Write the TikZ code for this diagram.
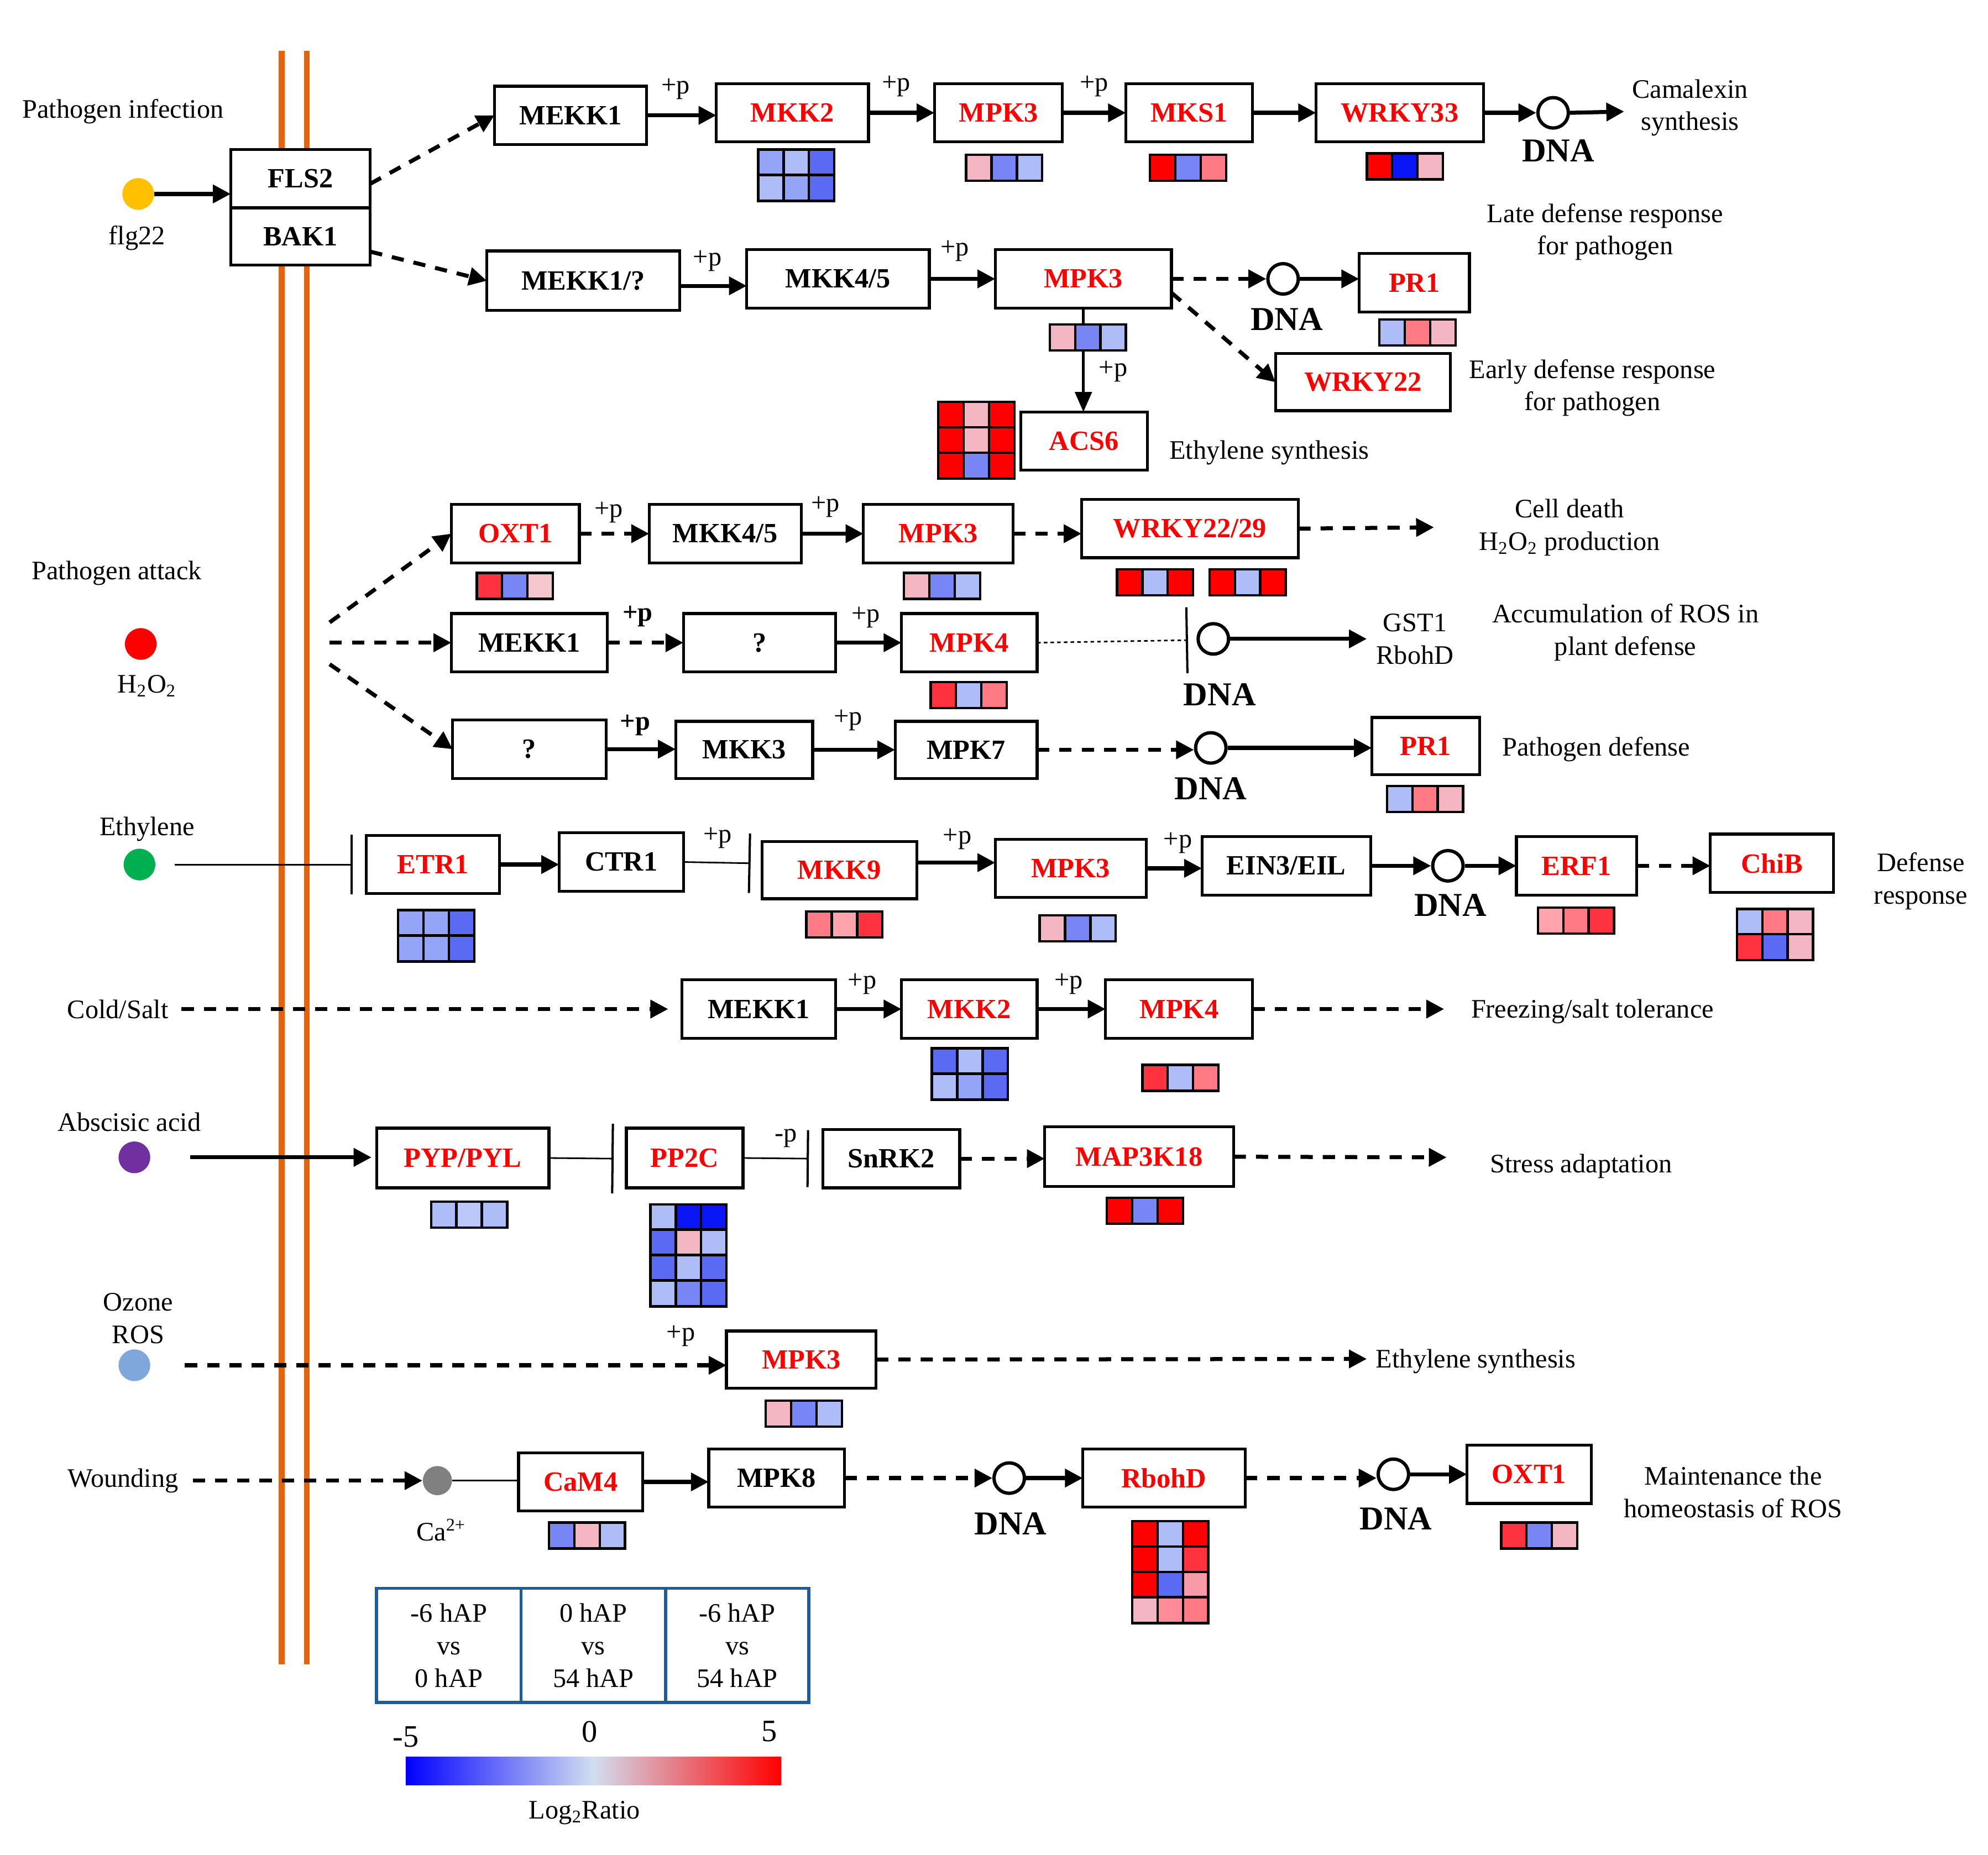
\documentclass[tikz,border=0pt]{standalone}
\usepackage{fontspec}
\setmainfont{Liberation Serif}
\usetikzlibrary{arrows.meta,fit}
\definecolor{membc}{HTML}{E2640F}
\definecolor{gred}{HTML}{FF0000}
\definecolor{legc}{HTML}{1F5C99}
\definecolor{gmid}{HTML}{D2DEF0}
\definecolor{flgc}{HTML}{FFC000}
\definecolor{atkc}{HTML}{FF0000}
\definecolor{ethc}{HTML}{00B050}
\definecolor{abac}{HTML}{7030A0}
\definecolor{ozc}{HTML}{7FA7DC}
\definecolor{cac}{HTML}{808080}
\definecolor{hR}{HTML}{FF0000}
\definecolor{hRb}{HTML}{FF3340}
\definecolor{hS}{HTML}{FF7A85}
\definecolor{hSL}{HTML}{FFA3AD}
\definecolor{hPS}{HTML}{F99AA8}
\definecolor{hSb}{HTML}{FF8C98}
\definecolor{hP}{HTML}{F4B6C2}
\definecolor{hLP}{HTML}{F5C6CE}
\definecolor{hLB}{HTML}{AEBCF8}
\definecolor{hLBb}{HTML}{BCC8F9}
\definecolor{hBa}{HTML}{94A4F6}
\definecolor{hMB}{HTML}{7886F5}
\definecolor{hB}{HTML}{5A6AF3}
\definecolor{hDB}{HTML}{0A16F6}
\newcommand\myboxf{\fontsize{12.5}{14}\selectfont\bfseries}
\newcommand\mylblf{\fontsize{12}{14.6}\selectfont}
\newcommand\mydnaf{\fontsize{15}{17}\selectfont\bfseries}
\newcommand\mynumf{\fontsize{14}{16}\selectfont}
\newcommand\hmc[3]{\draw[hmcell,fill=#3] (#1,#2) rectangle (#1+20,#2+20.5);}
\newcommand\hmr[5]{\hmc{#1}{#2}{#3}\hmc{#1+20}{#2}{#4}\hmc{#1+40}{#2}{#5}}
\newcommand\mkbox[7]{\node[#1,minimum width={(#5-#3)*0.02cm},minimum height={(#6-#4)*0.02cm}] (#2) at ({(#3+#5)/2},{(#4+#6)/2}) {#7};}
\begin{document}
\begin{tikzpicture}[x=0.02cm,y=-0.02cm,
 gbox/.style={draw,line width=1.3pt,fill=white,inner sep=0pt,outer sep=0pt,font=\myboxf},
 rbox/.style={gbox,text=gred},
 lbl/.style={font=\mylblf,align=center,inner sep=0pt},
 pl/.style={font=\mylblf,inner sep=0pt},
 pb/.style={font=\mylblf\bfseries,inner sep=0pt},
 dnal/.style={font=\mydnaf,inner sep=0pt},
 dnac/.style={circle,draw,line width=1.5pt,minimum size=0.48cm,inner sep=0pt,fill=white},
 sig/.style={circle,minimum size=0.5cm,inner sep=0pt},
 arr/.style={line width=1.8pt,-{Triangle[length=8pt,width=8pt]}},
 darr/.style={arr,dash pattern=on 5.5pt off 4.5pt},
 varr/.style={line width=1.3pt,-{Triangle[length=9pt,width=7.5pt]}},
 tline/.style={line width=0.7pt},
 inh/.style={line width=0.7pt,-{Bar[width=#1,line width=1pt]}},
 inh/.default=0.94cm,
 hmcell/.style={draw=black,line width=1.1pt},
 membl/.style={draw=membc,line width=2.7pt},
 legcell/.style={draw=legc,line width=1.4pt,inner sep=0pt,outer sep=0pt,font=\mylblf,align=center}]
\useasboundingbox (0,0) rectangle (1568,1463);
% membrane
\draw[membl] (222,40) -- (222,1313);
\draw[membl] (242,40) -- (242,1313);
% ---------- boxes ----------
\mkbox{gbox}{fls2}{182}{118}{292}{164}{FLS2}
\mkbox{gbox}{bak1}{182}{164}{292}{209}{BAK1}
\mkbox{gbox}{mekk1a}{390}{68}{510}{114}{MEKK1}
\mkbox{rbox}{mkk2a}{565}{66}{685}{112}{MKK2}
\mkbox{rbox}{mpk3a}{737}{66}{838}{112}{MPK3}
\mkbox{rbox}{mks1}{888}{66}{988}{112}{MKS1}
\mkbox{rbox}{wrky33}{1038}{66}{1170}{112}{WRKY33}
\mkbox{gbox}{mekk1q}{384}{198}{536}{245}{MEKK1/?}
\mkbox{gbox}{mkk45a}{589}{197}{733}{243}{MKK4/5}
\mkbox{rbox}{mpk3b}{785}{197}{924}{243}{MPK3}
\mkbox{rbox}{pr1a}{1072}{200}{1159}{246}{PR1}
\mkbox{rbox}{wrky22}{1006}{279}{1144}{324}{WRKY22}
\mkbox{rbox}{acs6}{805}{325}{905}{371}{ACS6}
\mkbox{rbox}{oxt1a}{356}{398}{457}{444}{OXT1}
\mkbox{gbox}{mkk45b}{512}{398}{632}{444}{MKK4/5}
\mkbox{rbox}{mpk3c}{681}{398}{799}{444}{MPK3}
\mkbox{rbox}{wrky2229}{853}{394}{1024}{440}{WRKY22/29}
\mkbox{gbox}{mekk1b}{356}{484}{479}{530}{MEKK1}
\mkbox{gbox}{qa}{539}{484}{659}{530}{?}
\mkbox{rbox}{mpk4a}{711}{484}{818}{530}{MPK4}
\mkbox{gbox}{qb}{357}{568}{478}{614}{?}
\mkbox{gbox}{mkk3}{533}{569}{641}{614}{MKK3}
\mkbox{gbox}{mpk7}{706}{569}{818}{614}{MPK7}
\mkbox{rbox}{pr1b}{1082}{566}{1167}{611}{PR1}
\mkbox{rbox}{etr1}{289}{659}{394}{705}{ETR1}
\mkbox{gbox}{ctr1}{441}{657}{539}{703}{CTR1}
\mkbox{rbox}{mkk9}{601}{664}{723}{709}{MKK9}
\mkbox{rbox}{mpk3d}{785}{662}{904}{708}{MPK3}
\mkbox{gbox}{ein3}{948}{660}{1081}{706}{EIN3/EIL}
\mkbox{rbox}{erf1}{1196}{660}{1291}{706}{ERF1}
\mkbox{rbox}{chib}{1349}{658}{1446}{704}{ChiB}
\mkbox{gbox}{mekk1c}{538}{773}{659}{819}{MEKK1}
\mkbox{rbox}{mkk2b}{711}{773}{818}{819}{MKK2}
\mkbox{rbox}{mpk4b}{872}{773}{988}{819}{MPK4}
\mkbox{rbox}{pyp}{297}{890}{433}{937}{PYP/PYL}
\mkbox{rbox}{pp2c}{494}{890}{586}{937}{PP2C}
\mkbox{gbox}{snrk2}{649}{891}{757}{937}{SnRK2}
\mkbox{rbox}{map3k18}{824}{889}{973}{936}{MAP3K18}
\mkbox{rbox}{mpk3e}{573}{1050}{691}{1095}{MPK3}
\mkbox{rbox}{cam4}{409}{1146}{507}{1192}{CaM4}
\mkbox{gbox}{mpk8}{559}{1143}{666}{1189}{MPK8}
\mkbox{rbox}{rbohd}{854}{1143}{982}{1189}{RbohD}
\mkbox{rbox}{oxt1b}{1157}{1140}{1255}{1186}{OXT1}
% ---------- circles ----------
\node[dnac] (dna1) at (1225,89) {};
\node[dnac] (dna2) at (1012,220) {};
\node[dnac] (dna3) at (957,504) {};
\node[dnac] (dna4) at (955,590) {};
\node[dnac] (dna5) at (1142,683) {};
\node[dnac] (dna6) at (796,1166) {};
\node[dnac] (dna7) at (1099,1163) {};
\node[sig,fill=flgc] (flg) at (109,153) {};
\node[sig,fill=atkc] (atk) at (111,508) {};
\node[sig,fill=ethc] (eth) at (110,682) {};
\node[sig,fill=abac] (aba) at (106,913) {};
\node[sig,fill=ozc] (oz) at (106,1077) {};
\node[sig,fill=cac,minimum size=0.46cm] (ca) at (345,1168) {};
% ---------- plain labels ----------
\node[lbl] (tpi) at (97,88) {Pathogen infection};
\node[lbl] (tflg) at (108,188) {flg22};
\node[lbl] (tcam) at (1333,85) {Camalexin\\synthesis};
\node[lbl] (tlate) at (1266,183) {Late defense response\\for pathogen};
\node[lbl] (tearly) at (1256,306) {Early defense response\\for pathogen};
\node[lbl] (tes1) at (1001,357) {Ethylene synthesis};
\node[lbl] (tpa) at (92,452) {Pathogen attack};
\node[lbl] (th2o2) at (116,541) {H\textsubscript{2}O\textsubscript{2}};
\node[lbl] (tcd) at (1238,416) {Cell death\\H\textsubscript{2}O\textsubscript{2} production};
\node[lbl] (tgst) at (1116,504) {GST1\\RbohD};
\node[lbl] (tacc) at (1282,499) {Accumulation of ROS in\\plant defense};
\node[lbl] (tpd) at (1259,591) {Pathogen defense};
\node[lbl] (teth) at (116,654) {Ethylene};
\node[lbl] (tdr) at (1515,695) {Defense\\response};
\node[lbl] (cold) at (93,796) {Cold/Salt};
\node[lbl] (tfrz) at (1256,798) {Freezing/salt tolerance};
\node[lbl] (taba) at (102,885) {Abscisic acid};
\node[lbl] (tsa) at (1247,920) {Stress adaptation};
\node[lbl] (toz) at (109,1040) {Ozone\\ROS};
\node[lbl] (tes2) at (1164,1074) {Ethylene synthesis};
\node[lbl] (wnd) at (97,1168) {Wounding};
\node[lbl] (tca) at (348,1207) {Ca\textsuperscript{2+}};
\node[lbl] (tmh) at (1367,1177) {Maintenance the\\homeostasis of ROS};
% DNA labels
\node[dnal] (dl1) at (1229,119) {DNA};
\node[dnal] (dl2) at (1015,252) {DNA};
\node[dnal] (dl3) at (962,548) {DNA};
\node[dnal] (dl4) at (955,622) {DNA};
\node[dnal] (dl5) at (1144,714) {DNA};
\node[dnal] (dl6) at (797,1202) {DNA};
\node[dnal] (dl7) at (1101,1198) {DNA};
% +p labels
\node[pl] (p1) at (533,70) {+p};
\node[pl] (p2) at (707,68) {+p};
\node[pl] (p3) at (863,68) {+p};
\node[pl] (p4) at (558,206) {+p};
\node[pl] (p5) at (753,198) {+p};
\node[pl] (p6) at (878,293) {+p};
\node[pl] (p7) at (480,404) {+p};
\node[pl] (p8) at (651,400) {+p};
\node[pb] (p9) at (503,486) {+p};
\node[pl] (p10) at (683,487) {+p};
\node[pb] (p11) at (501,572) {+p};
\node[pl] (p12) at (669,568) {+p};
\node[pl] (p13) at (566,661) {+p};
\node[pl] (p14) at (755,662) {+p};
\node[pl] (p15) at (929,665) {+p};
\node[pl] (p16) at (680,776) {+p};
\node[pl] (p17) at (843,776) {+p};
\node[pl] (p18) at (620,898) {-p};
\node[pl] (p19) at (537,1054) {+p};
% ---------- coordinates ----------
\coordinate (camx) at (1281,88);
\coordinate (pa1) at (260,491);
\coordinate (pa2) at (260,507);
\coordinate (pa3) at (260,524);
\coordinate (cdx) at (1131,416);
\coordinate (b3) at (937,505);
\coordinate (gstx) at (1078,504);
\coordinate (b1) at (278,682);
\coordinate (b2) at (592,681);
\coordinate (frzx) at (1139,796);
\coordinate (b4) at (484,914);
\coordinate (b5) at (638,914);
\coordinate (sax) at (1141,913);
\coordinate (es2x) at (1078,1072);
% ---------- connectors ----------
\draw[arr] (flg) -- (flg -| fls2.west);
\draw[darr] ([yshift=-0.08cm]fls2.east) -- (mekk1a.west);
\draw[darr] ([yshift=-0.24cm]bak1.east) -- (mekk1q.west);
\draw[arr] (mekk1a.east) -- (mekk1a.east -| mkk2a.west);
\draw[arr] (mkk2a.east) -- (mkk2a.east -| mpk3a.west);
\draw[arr] (mpk3a.east) -- (mpk3a.east -| mks1.west);
\draw[arr] (mks1.east) -- (mks1.east -| wrky33.west);
\draw[arr] (wrky33.east) -- (dna1.west);
\draw[arr] (dna1.east) -- (camx);
\draw[arr] ([yshift=-0.08cm]mekk1q.east) -- ([yshift=-0.08cm]mekk1q.east -| mkk45a.west);
\draw[arr] (mkk45a.east) -- (mkk45a.east -| mpk3b.west);
\draw[darr] (mpk3b.east) -- (dna2.west);
\draw[arr] (dna2.east) -- (dna2.east -| pr1a.west);
\draw[darr] ([yshift=-0.22cm]mpk3b.east) -- (wrky22.west);
\draw[varr] (mpk3b.south) -- (mpk3b.south |- acs6.north);
\draw[darr] (pa1) -- (oxt1a.west);
\draw[darr] (pa2) -- (pa2 -| mekk1b.west);
\draw[darr] (pa3) -- (qb.west);
\draw[darr] (oxt1a.east) -- (oxt1a.east -| mkk45b.west);
\draw[arr] (mkk45b.east) -- (mkk45b.east -| mpk3c.west);
\draw[darr] (mpk3c.east) -- (mpk3c.east -| wrky2229.west);
\draw[darr] (wrky2229.east) -- (cdx);
\draw[darr] (mekk1b.east) -- (mekk1b.east -| qa.west);
\draw[arr] (qa.east) -- (qa.east -| mpk4a.west);
\draw[inh=1.04cm,dash pattern=on 1.6pt off 1.4pt] (mpk4a.east) -- (b3);
\draw[arr] (dna3.east) -- (gstx);
\draw[arr] (qb.east) -- (qb.east -| mkk3.west);
\draw[arr] (mkk3.east) -- (mkk3.east -| mpk7.west);
\draw[darr] (mpk7.east) -- (mpk7.east -| dna4.west);
\draw[arr] (dna4.east) -- (dna4.east -| pr1b.west);
\draw[inh] ([xshift=0.3cm]eth.east) -- (b1);
\draw[arr] (etr1.east) -- (etr1.east -| ctr1.west);
\draw[inh] (ctr1.east) -- (b2);
\draw[arr] ([yshift=0.12cm]mkk9.east) -- ([yshift=0.12cm]mkk9.east -| mpk3d.west);
\draw[arr] (mpk3d.east) -- (mpk3d.east -| ein3.west);
\draw[arr] (ein3.east) -- (dna5.west);
\draw[arr] (dna5.east) -- (dna5.east -| erf1.west);
\draw[darr] (erf1.east) -- (erf1.east -| chib.west);
\draw[darr,shorten >=0.22cm] ([xshift=0.2cm]cold.east) -- (cold.east -| mekk1c.west);
\draw[arr] (mekk1c.east) -- (mekk1c.east -| mkk2b.west);
\draw[arr] (mkk2b.east) -- (mkk2b.east -| mpk4b.west);
\draw[darr] (mpk4b.east) -- (frzx);
\draw[arr,shorten >=0.08cm] ([xshift=0.62cm]aba.east) -- (aba.east -| pyp.west);
\draw[inh=1.1cm] (pyp.east) -- (b4);
\draw[inh=0.9cm] (pp2c.east) -- (b5);
\draw[darr] (snrk2.east) -- (snrk2.east -| map3k18.west);
\draw[darr] (map3k18.east) -- (sax);
\draw[darr] ([xshift=0.54cm]oz.east) -- (oz.east -| mpk3e.west);
\draw[darr] (mpk3e.east) -- (es2x);
\draw[darr] ([xshift=0.22cm]wnd.east) -- (wnd.east -| ca.west);
\draw[tline] (ca.east) -- (ca.east -| cam4.west);
\draw[arr] (cam4.east) -- (cam4.east -| mpk8.west);
\draw[darr] (mpk8.east) -- (mpk8.east -| dna6.west);
\draw[arr] (dna6.east) -- (dna6.east -| rbohd.west);
\draw[darr] (rbohd.east) -- (rbohd.east -| dna7.west);
\draw[arr] (dna7.east) -- (dna7.east -| oxt1b.west);
% ---------- heatmaps ----------
\hmr{598}{118}{hBa}{hLB}{hB}
\hmr{598}{138}{hLB}{hBa}{hB}
\hmr{762}{122}{hP}{hMB}{hLB}
\hmr{907}{122}{hR}{hMB}{hS}
\hmr{1078}{121}{hR}{hDB}{hP}
\hmr{828}{256}{hP}{hMB}{hLB}
\hmr{740}{317}{hR}{hP}{hR}
\hmr{740}{337}{hR}{hP}{hR}
\hmr{740}{357}{hR}{hMB}{hR}
\hmr{1088}{252}{hLB}{hS}{hP}
\hmr{376}{452}{hRb}{hMB}{hLP}
\hmr{713}{452}{hP}{hMB}{hLB}
\hmr{881}{449}{hR}{hLB}{hR}
\hmr{954}{449}{hR}{hLB}{hR}
\hmr{734}{538}{hRb}{hLB}{hS}
\hmr{1094}{620}{hLB}{hS}{hP}
\hmr{314}{718}{hBa}{hBa}{hB}
\hmr{314}{738}{hBa}{hBa}{hB}
\hmr{636}{719}{hS}{hSL}{hRb}
\hmr{820}{722}{hP}{hMB}{hLB}
\hmr{1213}{716}{hSL}{hS}{hRb}
\hmr{1370}{717}{hLB}{hS}{hP}
\hmr{1370}{737}{hRb}{hB}{hP}
\hmr{735}{827}{hB}{hLB}{hB}
\hmr{735}{847}{hLB}{hBa}{hB}
\hmr{901}{840}{hRb}{hLB}{hS}
\hmr{340}{948}{hLB}{hLBb}{hLB}
\hmr{513}{950}{hLB}{hDB}{hDB}
\hmr{513}{970}{hB}{hP}{hLB}
\hmr{513}{990}{hB}{hLB}{hB}
\hmr{513}{1010}{hLB}{hMB}{hB}
\hmr{873}{945}{hR}{hMB}{hR}
\hmr{604}{1105}{hP}{hMB}{hLB}
\hmr{433}{1201}{hMB}{hP}{hLB}
\hmr{893}{1200}{hR}{hLB}{hR}
\hmr{893}{1220}{hR}{hLB}{hRb}
\hmr{893}{1240}{hR}{hB}{hPS}
\hmr{893}{1260}{hP}{hSb}{hS}
\hmr{1184}{1201}{hRb}{hMB}{hP}
% ---------- legend ----------
\mkbox{legcell}{lg1}{297}{1253}{411}{1343}{-6 hAP\\vs\\0 hAP}
\mkbox{legcell}{lg2}{411}{1253}{525}{1343}{0 hAP\\vs\\54 hAP}
\mkbox{legcell}{lg3}{525}{1253}{638}{1343}{-6 hAP\\vs\\54 hAP}
\node[font=\mynumf,inner sep=0pt] (lm5) at (320,1370) {-5};
\node[font=\mynumf,inner sep=0pt] (l0) at (465,1366) {0};
\node[font=\mynumf,inner sep=0pt] (l5) at (607,1366) {5};
\node[fit={(320,1386) (616,1408)},inner sep=0pt,left color=blue,right color=red,middle color=gmid] (grad) {};
\node[lbl] (tlog) at (461,1430) {Log\textsubscript{2}Ratio};
\end{tikzpicture}
\end{document}
